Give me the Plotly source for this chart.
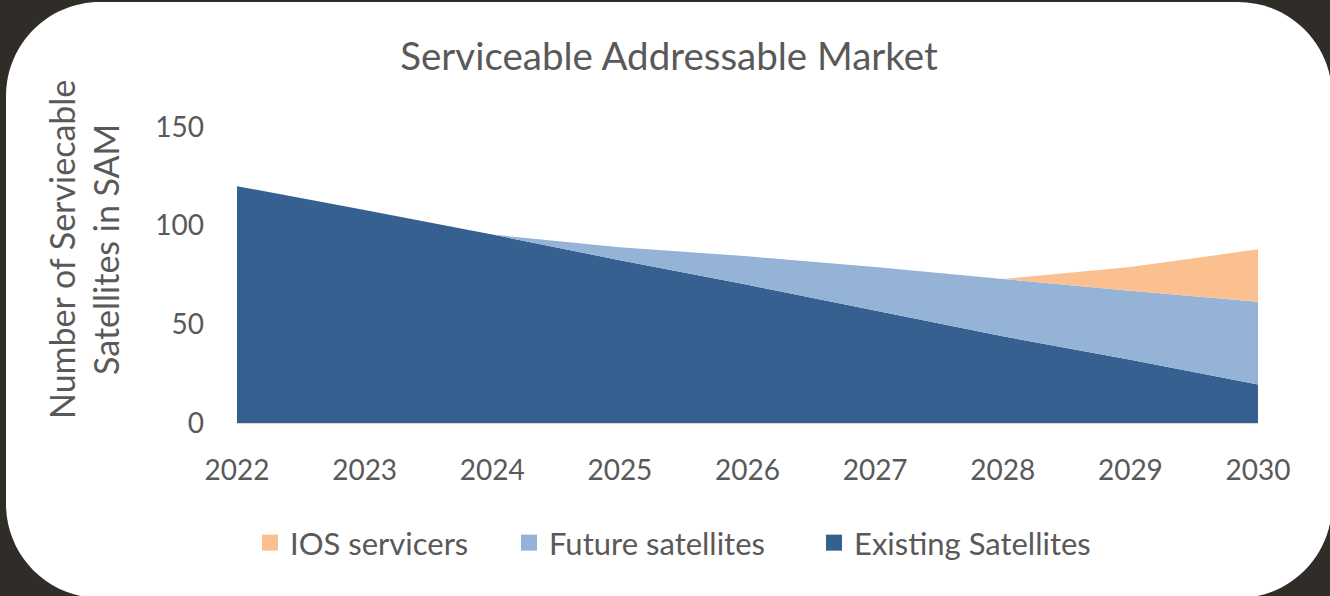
import plotly.graph_objects as go

# Serviceable addressable market, stacked by satellite group
years = [2022, 2023, 2024, 2025, 2026, 2027, 2028, 2029, 2030]
existing_satellites = [120, 108, 95.5, 82.5, 70, 57, 44, 32, 19.5]
future_satellites = [0, 0, 0, 6.5, 14.5, 22, 29, 35, 42]
ios_servicers = [0, 0, 0, 0, 0, 0, 0, 12, 26.5]

y_ticks = [0, 50, 100, 150]

TEXT = "#595959"
FONT = "Lato"

W, H = 1330, 596
# plot area in pixels
L, R, T, B = 237, 1258, 127, 423


def px_to_paper(px, py):
    return (px - L) / (R - L), (B - py) / (B - T)


def rounded_rect_path(x0, y0, x1, y1, r):
    k = 0.5523 * r
    pts = [
        ("M", [(x0 + r, y0)]),
        ("L", [(x1 - r, y0)]),
        ("C", [(x1 - r + k, y0), (x1, y0 + r - k), (x1, y0 + r)]),
        ("L", [(x1, y1 - r)]),
        ("C", [(x1, y1 - r + k), (x1 - r + k, y1), (x1 - r, y1)]),
        ("L", [(x0 + r, y1)]),
        ("C", [(x0 + r - k, y1), (x0, y1 - r + k), (x0, y1 - r)]),
        ("L", [(x0, y0 + r)]),
        ("C", [(x0, y0 + r - k), (x0 + r - k, y0), (x0 + r, y0)]),
    ]
    parts = []
    for cmd, coords in pts:
        conv = [px_to_paper(x, y) for x, y in coords]
        parts.append(cmd + " " + " ".join(f"{a:.5f},{b:.5f}" for a, b in conv))
    return " ".join(parts) + " Z"


fig = go.Figure()

series = [
    ("Existing Satellites", existing_satellites, "#36608F"),
    ("Future satellites", future_satellites, "#95B3D7"),
    ("IOS servicers", ios_servicers, "#FAC090"),
]
for name, vals, color in series:
    fig.add_trace(go.Scatter(
        x=years, y=vals, name=name, mode="lines",
        stackgroup="sam", line=dict(width=0, color=color),
        fillcolor=color, showlegend=False,
    ))

# square legend keys, one legend box per entry so each can be placed
legend_centers = {"IOS servicers": 270, "Future satellites": 529,
                  "Existing Satellites": 834}
legend_ids = {"IOS servicers": "legend", "Future satellites": "legend2",
              "Existing Satellites": "legend3"}
for name, vals, color in series:
    fig.add_trace(go.Scatter(
        x=[None], y=[None], name=name, mode="markers",
        marker=dict(symbol="square", size=18, color=color),
        legend=legend_ids[name], showlegend=True, hoverinfo="skip",
    ))

legend_style = dict(
    orientation="h", xref="container", yref="container",
    y=1 - 543 / H, xanchor="left", yanchor="middle",
    font=dict(family=FONT, size=31, color=TEXT),
    bgcolor="rgba(0,0,0,0)", borderwidth=0,
)

fig.add_shape(
    type="path", xref="paper", yref="paper",
    path=rounded_rect_path(6, 2, 1332, 598, 94),
    fillcolor="white", line=dict(width=0), layer="below",
)

fig.add_annotation(
    text="Number of Serviecable<br>Satellites in SAM",
    xref="paper", yref="paper",
    x=px_to_paper(83, 0)[0], y=px_to_paper(0, 250)[1],
    xanchor="center", yanchor="middle",
    textangle=-90, showarrow=False,
    font=dict(family=FONT, size=34, color=TEXT),
)

fig.update_layout(
    width=W, height=H,
    margin=dict(l=L, r=W - R, t=T, b=H - B),
    paper_bgcolor="#302D28",
    plot_bgcolor="white",
    title=dict(
        text="Serviceable Addressable Market",
        xref="container", yref="container",
        x=669 / W, y=1 - 57 / H, xanchor="center", yanchor="middle",
        font=dict(family=FONT, size=38.5, color=TEXT),
    ),
    showlegend=True,
    legend=dict(legend_style, x=(legend_centers["IOS servicers"] - 20) / W),
    legend2=dict(legend_style, x=(legend_centers["Future satellites"] - 20) / W),
    legend3=dict(legend_style, x=(legend_centers["Existing Satellites"] - 20) / W),
    xaxis=dict(
        range=[2022, 2030], tickvals=years, ticktext=[str(y) for y in years],
        showgrid=False, zeroline=False, showline=True, linecolor="#D9D9D9",
        linewidth=1, ticks="", ticklabelstandoff=22,
        tickfont=dict(family=FONT, size=28, color=TEXT),
    ),
    yaxis=dict(
        range=[0, 150], tickvals=y_ticks, showgrid=False, zeroline=False,
        showline=False, ticks="", ticklabelstandoff=32,
        tickfont=dict(family=FONT, size=28, color=TEXT),
    ),
)

fig.write_html("out.html")
